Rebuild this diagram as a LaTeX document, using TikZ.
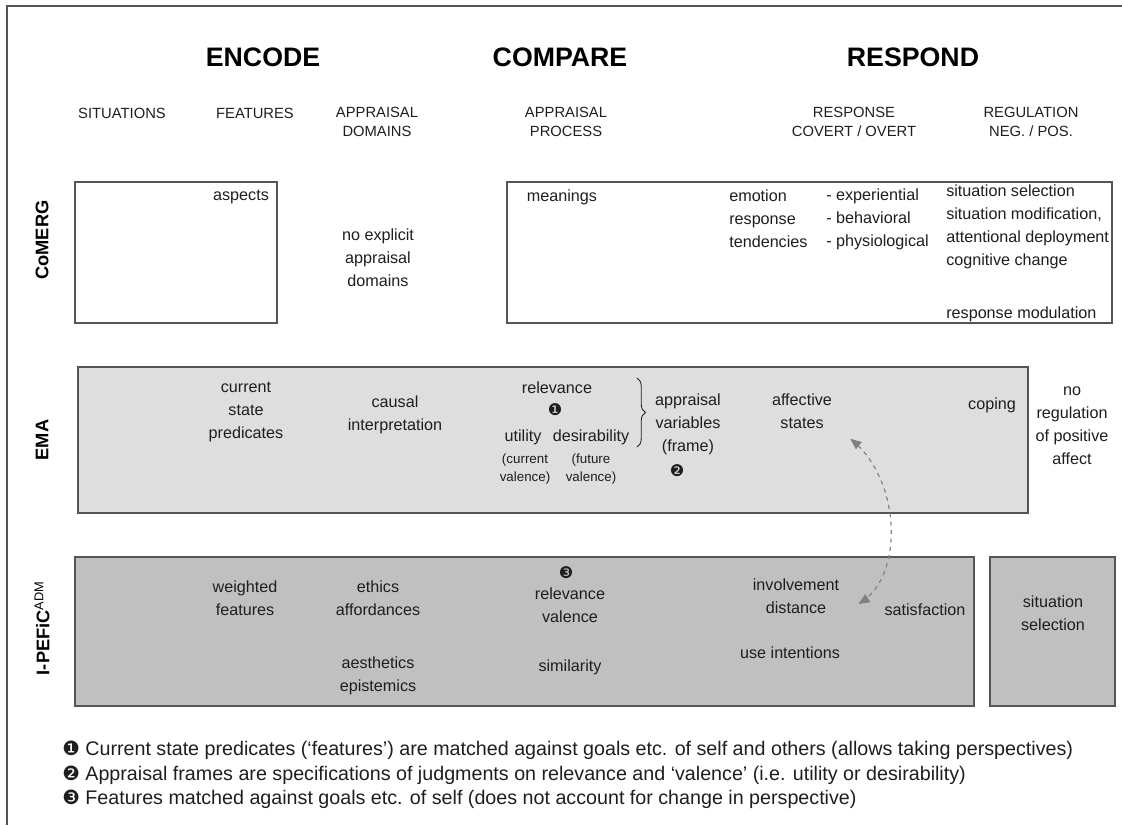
\documentclass[tikz,border=0pt]{standalone}
\usepackage{fontspec}
\setmainfont{Liberation Sans}
\newfontfamily\dingfont{DejaVu Sans}
\usetikzlibrary{arrows}
\usetikzlibrary{positioning, calc, decorations.pathreplacing}
\usepackage{xcolor}

\definecolor{frameline}{RGB}{85,85,85}
\definecolor{emafill}{RGB}{222,222,222}
\definecolor{pefill}{RGB}{192,192,192}
\definecolor{inktext}{RGB}{30,30,30}

\tikzset{
  phase/.style={font=\fontsize{19}{22}\selectfont\bfseries, inner sep=0pt},
  colhead/.style={font=\fontsize{10.5}{13.5}\selectfont, align=center, inner sep=0pt, text=inktext},
  model/.style={font=\fontsize{13}{15}\selectfont\bfseries, rotate=90, inner sep=0pt},
  txt/.style={font=\fontsize{11.5}{16.4}\selectfont, align=center, inner sep=0pt, text=inktext},
  ltxt/.style={txt, align=left, anchor=west},
  small/.style={font=\fontsize{9.5}{12.8}\selectfont, align=center, inner sep=0pt, text=inktext},
  panel/.style={draw=frameline, line width=1pt},
  note/.style={font=\fontsize{14}{17}\selectfont, anchor=west, inner sep=0pt, text=inktext},
  link/.style={gray, dashed, line width=0.8pt, triangle 45-triangle 45},
}
\newcommand{\dnum}[1]{{\dingfont #1}}

\begin{document}
\begin{tikzpicture}[x=0.025cm, y=-0.025cm]
        \useasboundingbox (0, 0) rectangle (1122, 825);
        \draw[frameline, line width=1.5pt] (7, 825) -- (7, 6) -- (1122, 6);

        \node[phase] (encode) at (263, 57) {ENCODE};
        \node[phase] (compare) at (560, 57) {COMPARE};
        \node[phase] (respond) at (913, 57) {RESPOND};

        \node[colhead] (hsit) at (122, 113) {SITUATIONS};
        \node[colhead] (hfeat) at (255, 113) {FEATURES};
        \node[colhead] (hdom) at (377, 122) {APPRAISAL\\DOMAINS};
        \node[colhead] (hproc) at (566, 122) {APPRAISAL\\PROCESS};
        \node[colhead] (hresp) at (854, 122) {RESPONSE\\COVERT / OVERT};
        \node[colhead] (hreg) at (1031, 122) {REGULATION\\NEG. / POS.};

        \node[model] (comerg) at (42, 240) {CoMERG};
        \node[model] (ema) at (42, 440) {EMA};
        \node[model] (ipefic) at (42, 628) {I-PEFiC\textsuperscript{\mdseries ADM}};

        \draw[panel, fill=white] (75, 182) rectangle (277, 323);
        \draw[panel, fill=white] (507, 182) rectangle (1112, 323);
        \draw[panel, fill=emafill] (78, 367) rectangle (1028, 513);
        \draw[panel, fill=pefill] (75, 557) rectangle (974, 706);
        \draw[panel, fill=pefill] (990, 557) rectangle (1115, 706);

        \node[txt] (aspects) at (241, 197) {aspects};
        \node[txt] (nodom) at (378, 258) {no explicit\\appraisal\\domains};
        \node[txt] (meanings) at (562, 197) {meanings};
        \node[ltxt] (tend) at (729, 219) {emotion\\response\\tendencies};
        \node[ltxt] (modes) at (826, 219) {- experiential\\- behavioral\\- physiological};
        \node[ltxt] (strat) at (946, 227) {situation selection\\situation modification,\\attentional deployment\\cognitive change};
        \node[ltxt] (modul) at (946, 314) {response modulation};

        \node[txt] (preds) at (246, 412) {current\\state\\predicates};
        \node[txt] (causal) at (395, 415) {causal\\interpretation};
        \node[txt] (relev) at (557, 388) {relevance};
        \node[txt] (one) at (555, 410) {\dnum{❶}};
        \node[txt] (util) at (523, 437) {utility};
        \node[small] (curval) at (525, 469) {(current\\valence)};
        \node[txt] (desir) at (591, 437) {desirability};
        \node[small] (futval) at (591, 469) {(future\\valence)};
        \draw[inktext, line width=0.6pt, decorate, decoration={brace, amplitude=6pt}] (637, 378) -- (637, 447);
        \node[txt] (frame) at (688, 424) {appraisal\\variables\\(frame)};
        \node[txt] (two) at (677, 471) {\dnum{❷}};
        \node[txt] (affect) at (802, 411) {affective\\states};
        \node[txt] (coping) at (992, 405) {coping};
        \node[txt] (noreg) at (1072, 426) {no\\regulation\\of positive\\affect};

        \node[txt] (weighted) at (245, 598) {weighted\\features};
        \node[txt] (ethics) at (378, 598) {ethics\\affordances};
        \node[txt] (aesth) at (378, 676) {aesthetics\\epistemics};
        \node[txt] (three) at (566, 573) {\dnum{❸}};
        \node[txt] (relval) at (570, 605) {relevance\\valence};
        \node[txt] (simil) at (570, 667) {similarity};
        \node[txt] (involve) at (796, 596) {involvement\\distance};
        \node[txt] (satis) at (925, 610) {satisfaction};
        \node[txt] (useint) at (790, 653) {use intentions};
        \node[txt] (sitsel) at (1053, 613) {situation\\selection};

        \draw[link] ([shift={(18, 10)}]affect.south east) .. controls +(50, 40) and +(47, -29) .. ([shift={(19, 8)}]involve.east);

        \node[note] (fn1) at (62, 750) {\dnum{❶} Current state predicates (‘features’) are matched against goals etc. of self and others (allows taking perspectives)};
        \node[note] (fn2) at (62, 775) {\dnum{❷} Appraisal frames are specifications of judgments on relevance and ‘valence’ (i.e. utility or desirability)};
        \node[note] (fn3) at (62, 799) {\dnum{❸} Features matched against goals etc. of self (does not account for change in perspective)};

      \end{tikzpicture}
\end{document}
